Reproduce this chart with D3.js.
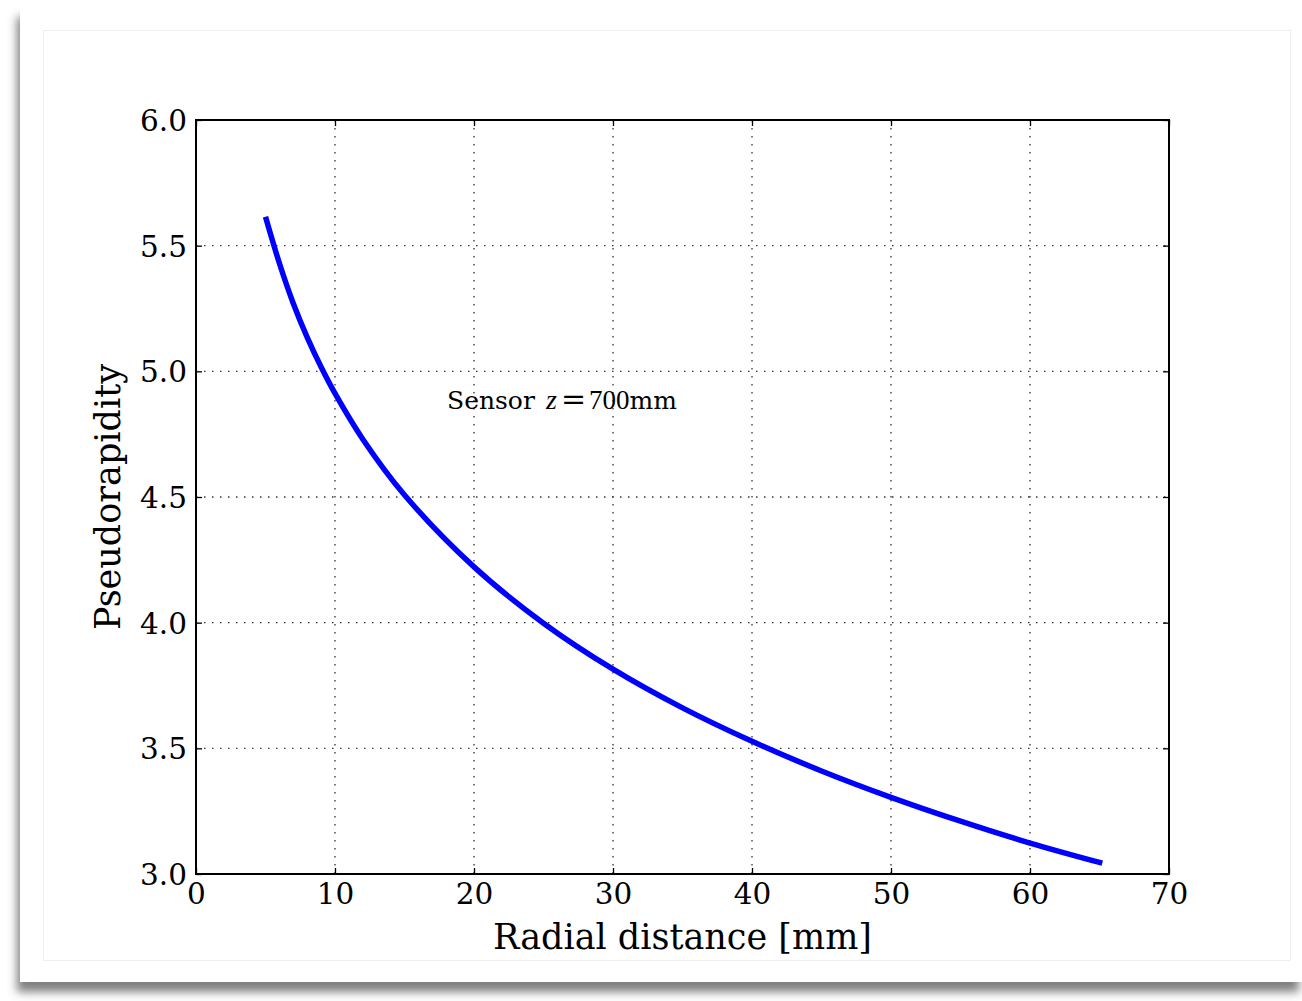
<!DOCTYPE html>
<html>
<head>
<meta charset="utf-8">
<script src="https://cdn.jsdelivr.net/npm/d3@7"></script>
<style>
  html, body { margin: 0; padding: 0; background: #ffffff; }
  svg { display: block; }
</style>
</head>
<body>
<script>
// ---- Data ----
const radius = [5, 6, 7, 8, 9, 10, 12, 15, 20, 25, 30, 35, 40, 45, 50, 55, 60, 65.2];
const eta    = [5.615, 5.43, 5.27, 5.135, 5.017, 4.912, 4.73, 4.508, 4.222, 3.998, 3.815, 3.661, 3.528, 3.41, 3.305, 3.21, 3.123, 3.043];
const xTicks = [0, 10, 20, 30, 40, 50, 60, 70];
const yTicks = [3.0, 3.5, 4.0, 4.5, 5.0, 5.5, 6.0];
const xLabel = "Radial distance [mm]";
const yLabel = "Pseudorapidity";

(function () {
const W = 1302, H = 1001;
const m = {left: 196, top: 120, right: 1169, bottom: 874};

const svg = d3.select("body").append("svg").attr("width", W).attr("height", H);
const defs = svg.append("defs");

// card with shadow
const f = defs.append("filter").attr("id", "shadow").attr("x", "-5%").attr("y", "-5%").attr("width", "110%").attr("height", "115%");
f.append("feDropShadow").attr("dx", -3).attr("dy", 10).attr("stdDeviation", 5)
  .attr("flood-color", "#555").attr("flood-opacity", 0.75);

svg.append("rect").attr("x", 20).attr("y", 7).attr("width", 1282).attr("height", 975)
  .attr("fill", "#ffffff").attr("filter", "url(#shadow)");
svg.append("rect").attr("x", 43.5).attr("y", 30.5).attr("width", 1247).attr("height", 930)
  .attr("fill", "none").attr("stroke", "#eeeeee").attr("stroke-width", 1);

const x = d3.scaleLinear().domain([0, 70]).range([m.left, m.right]);
const y = d3.scaleLinear().domain([3.0, 6.0]).range([m.bottom, m.top]);

const g = svg.append("g");

// grid
g.append("g").selectAll("line").data(xTicks.slice(1, -1)).join("line")
  .attr("x1", d => x(d)).attr("x2", d => x(d)).attr("y1", m.top).attr("y2", m.bottom)
  .attr("stroke", "#333").attr("stroke-width", 1.3).attr("stroke-dasharray", "1.5,6.5");
g.append("g").selectAll("line").data(yTicks.slice(1, -1)).join("line")
  .attr("y1", d => y(d)).attr("y2", d => y(d)).attr("x1", m.left).attr("x2", m.right)
  .attr("stroke", "#333").attr("stroke-width", 1.3).attr("stroke-dasharray", "1.5,6.5");

// axes (inward ticks, on all sides)
const font = "'DejaVu Serif', serif";
const axB = g.append("g").attr("transform", `translate(0,${m.bottom})`)
  .call(d3.axisBottom(x).tickValues(xTicks).tickFormat(d3.format("d")).tickSizeInner(-6).tickSizeOuter(0).tickPadding(8));
const axL = g.append("g").attr("transform", `translate(${m.left},0)`)
  .call(d3.axisLeft(y).tickValues(yTicks).tickFormat(d3.format(".1f")).tickSizeInner(-6).tickSizeOuter(0).tickPadding(9));
const axT = g.append("g").attr("transform", `translate(0,${m.top})`)
  .call(d3.axisTop(x).tickValues(xTicks).tickFormat("").tickSizeInner(-6).tickSizeOuter(0));
const axR = g.append("g").attr("transform", `translate(${m.right},0)`)
  .call(d3.axisRight(y).tickValues(yTicks).tickFormat("").tickSizeInner(-6).tickSizeOuter(0));
[axB, axL, axT, axR].forEach(a => {
  a.select(".domain").remove();
  a.selectAll(".tick line").attr("stroke", "#000").attr("stroke-width", 1.3);
  a.selectAll("text").attr("font-family", font).attr("font-size", 29.5).attr("fill", "#000");
});
axB.selectAll("text").attr("dy", "0.76em");
axL.selectAll("text").attr("dy", "0.36em");

// curve
const line = d3.line().x((d, i) => x(radius[i])).y(d => y(d)).curve(d3.curveCatmullRom.alpha(0.5));
g.append("path").datum(eta).attr("d", line)
  .attr("fill", "none").attr("stroke", "#0000ff").attr("stroke-width", 5.5);

// frame
g.append("rect").attr("x", m.left).attr("y", m.top).attr("width", m.right - m.left).attr("height", m.bottom - m.top)
  .attr("fill", "none").attr("stroke", "#000").attr("stroke-width", 2);

// annotation
const ann = svg.append("text").attr("y", 409).attr("font-family", font).attr("font-size", 25).attr("fill", "#000");
ann.append("tspan").attr("x", 447).text("Sensor");
ann.append("tspan").attr("x", 546).attr("font-style", "italic").attr("font-family", "'Liberation Serif', serif").attr("font-size", 28).text("z");
ann.append("tspan").attr("x", 561).attr("font-family", font).attr("font-size", 30).text("=");
ann.append("tspan").attr("x", 589).attr("font-family", "'Liberation Serif', serif").attr("font-size", 27).text("700");
ann.append("tspan").text("mm");

// axis labels
svg.append("text").attr("x", (m.left + m.right) / 2).attr("y", 949).attr("text-anchor", "middle")
  .attr("font-family", font).attr("font-size", 35).attr("fill", "#000").text(xLabel);
svg.append("text").attr("transform", `translate(120,${(m.top + m.bottom) / 2}) rotate(-90)`).attr("text-anchor", "middle")
  .attr("font-family", font).attr("font-size", 35).attr("fill", "#000").text(yLabel);
})();
</script>
</body>
</html>
